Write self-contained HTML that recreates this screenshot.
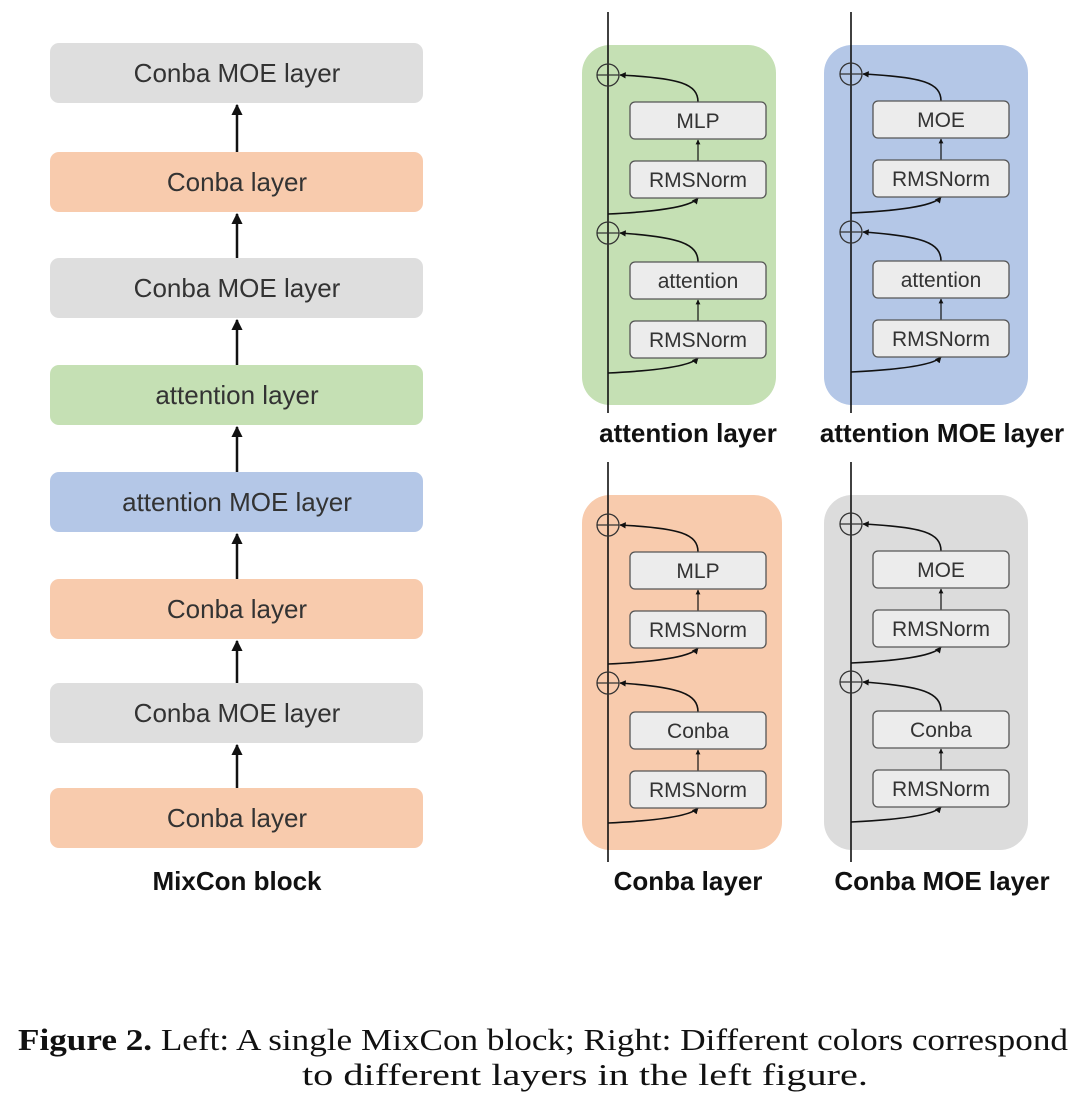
<!DOCTYPE html>
<html><head><meta charset="utf-8"><style>
html,body{margin:0;padding:0;background:#fff;}
svg{display:block;}
.l{font-family:"Liberation Sans",sans-serif;font-size:26px;fill:#333;text-anchor:middle;}
.s{font-family:"Liberation Sans",sans-serif;font-size:21px;fill:#333;text-anchor:middle;}
.b{font-family:"Liberation Sans",sans-serif;font-size:26px;font-weight:bold;fill:#111;text-anchor:middle;}
.c{font-family:"Liberation Serif",serif;font-size:31px;fill:#111;}
</style></head><body>
<svg width="1080" height="1108" viewBox="0 0 1080 1108" xmlns="http://www.w3.org/2000/svg">
<defs>
<marker id="a" viewBox="0 0 10 10" refX="9" refY="5" markerWidth="4.5" markerHeight="4.5" orient="auto"><path d="M0,0 L10,5 L0,10 z" fill="#111"/></marker>
<marker id="m" viewBox="0 0 10 10" refX="9" refY="5" markerWidth="4" markerHeight="4" orient="auto"><path d="M0,0 L10,5 L0,10 z" fill="#111"/></marker>
<g id="inner">
  <circle cx="608" cy="75" r="11" fill="none" stroke="#333" stroke-width="1.3"/>
  <line x1="597" y1="75" x2="619" y2="75" stroke="#333" stroke-width="1.3"/>
  <path d="M698,102 C698,84 680,78 620,75" fill="none" stroke="#111" stroke-width="1.6" marker-end="url(#m)"/>
  <path d="M608,214 C650,212 690,208 698,198" fill="none" stroke="#111" stroke-width="1.6" marker-end="url(#m)"/>
  <line x1="698" y1="161" x2="698" y2="140" stroke="#111" stroke-width="1.2" marker-end="url(#m)"/>
  <rect x="630" y="161" width="136" height="37" rx="5" fill="#ececec" stroke="#555" stroke-width="1.3"/>
  <text class="s" x="698" y="187">RMSNorm</text>
  <circle cx="608" cy="233" r="11" fill="none" stroke="#333" stroke-width="1.3"/>
  <line x1="597" y1="233" x2="619" y2="233" stroke="#333" stroke-width="1.3"/>
  <path d="M698,262 C698,244 680,237 620,233" fill="none" stroke="#111" stroke-width="1.6" marker-end="url(#m)"/>
  <path d="M608,373 C650,371 690,367 698,358" fill="none" stroke="#111" stroke-width="1.6" marker-end="url(#m)"/>
  <line x1="698" y1="321" x2="698" y2="300" stroke="#111" stroke-width="1.2" marker-end="url(#m)"/>
  <rect x="630" y="321" width="136" height="37" rx="5" fill="#ececec" stroke="#555" stroke-width="1.3"/>
  <text class="s" x="698" y="347">RMSNorm</text>
  <rect x="630" y="102" width="136" height="37" rx="5" fill="#ececec" stroke="#555" stroke-width="1.3"/>
  <rect x="630" y="262" width="136" height="37" rx="5" fill="#ececec" stroke="#555" stroke-width="1.3"/>
</g>
</defs>

<g>
<rect x="50" y="43" width="373" height="60" rx="9" fill="#dedede"/><text class="l" x="237" y="82">Conba MOE layer</text>
<rect x="50" y="152" width="373" height="60" rx="9" fill="#f8cbad"/><text class="l" x="237" y="191">Conba layer</text>
<rect x="50" y="258" width="373" height="60" rx="9" fill="#dedede"/><text class="l" x="237" y="297">Conba MOE layer</text>
<rect x="50" y="365" width="373" height="60" rx="9" fill="#c5e0b4"/><text class="l" x="237" y="404">attention layer</text>
<rect x="50" y="472" width="373" height="60" rx="9" fill="#b4c7e7"/><text class="l" x="237" y="511">attention MOE layer</text>
<rect x="50" y="579" width="373" height="60" rx="9" fill="#f8cbad"/><text class="l" x="237" y="618">Conba layer</text>
<rect x="50" y="683" width="373" height="60" rx="9" fill="#dedede"/><text class="l" x="237" y="722">Conba MOE layer</text>
<rect x="50" y="788" width="373" height="60" rx="9" fill="#f8cbad"/><text class="l" x="237" y="827">Conba layer</text>
<g stroke="#111" stroke-width="2.5" marker-end="url(#a)">
<line x1="237" y1="152" x2="237" y2="105"/>
<line x1="237" y1="258" x2="237" y2="214"/>
<line x1="237" y1="365" x2="237" y2="320"/>
<line x1="237" y1="472" x2="237" y2="427"/>
<line x1="237" y1="579" x2="237" y2="534"/>
<line x1="237" y1="683" x2="237" y2="641"/>
<line x1="237" y1="788" x2="237" y2="745"/>
</g>
<text class="b" x="237" y="890">MixCon block</text>
</g>

<rect x="582" y="45" width="194" height="360" rx="28" fill="#c5e0b4"/>
<line x1="608" y1="12" x2="608" y2="413" stroke="#111" stroke-width="1.6"/>
<use href="#inner"/>
<text class="s" x="698" y="128">MLP</text>
<text class="s" x="698" y="288">attention</text>
<text class="b" x="688" y="442">attention layer</text>

<rect x="824" y="45" width="204" height="360" rx="28" fill="#b4c7e7"/>
<line x1="851" y1="12" x2="851" y2="413" stroke="#111" stroke-width="1.6"/>
<g transform="translate(243,-1)"><use href="#inner"/>
<text class="s" x="698" y="128">MOE</text>
<text class="s" x="698" y="288">attention</text></g>
<text class="b" x="942" y="442">attention MOE layer</text>

<rect x="582" y="495" width="200" height="355" rx="28" fill="#f8cbad"/>
<line x1="608" y1="462" x2="608" y2="862" stroke="#111" stroke-width="1.6"/>
<g transform="translate(0,450)"><use href="#inner"/>
<text class="s" x="698" y="128">MLP</text>
<text class="s" x="698" y="288">Conba</text></g>
<text class="b" x="688" y="890">Conba layer</text>

<rect x="824" y="495" width="204" height="355" rx="28" fill="#dcdcdc"/>
<line x1="851" y1="462" x2="851" y2="862" stroke="#111" stroke-width="1.6"/>
<g transform="translate(243,449)"><use href="#inner"/>
<text class="s" x="698" y="128">MOE</text>
<text class="s" x="698" y="288">Conba</text></g>
<text class="b" x="942" y="890">Conba MOE layer</text>

<text class="c" x="18" y="1050" textLength="1050" lengthAdjust="spacingAndGlyphs"><tspan font-weight="bold">Figure 2.</tspan>    Left: A single MixCon block; Right: Different colors correspond</text>
<text class="c" x="302" y="1085" textLength="566" lengthAdjust="spacingAndGlyphs">to different layers in the left figure.</text>
</svg>
</body></html>
